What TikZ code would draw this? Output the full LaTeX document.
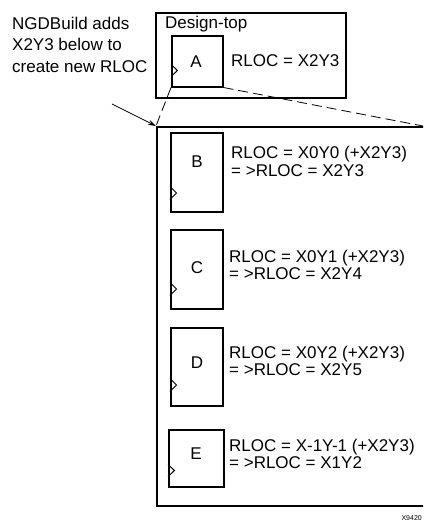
\documentclass[tikz,border=0pt]{standalone}
\usepackage{fontspec}
\setmainfont{Liberation Sans}
\usetikzlibrary{arrows.meta}
\tikzset{
  lbl/.style={anchor=base west, inner sep=0pt, font=\fontsize{17}{18}\selectfont},
  letter/.style={anchor=base, inner sep=0pt, font=\fontsize{17}{18}\selectfont},
  cell/.style={draw, line width=1.5pt, anchor=north west, inner sep=0pt},
  frame/.style={draw, line width=1.5pt, anchor=north west, inner sep=0pt},
  clk/.style={line width=1pt},
  zoomline/.style={line width=0.8pt, dash pattern=on 10pt off 5pt},
  pointer/.style={line width=0.7pt, -{Stealth[length=8pt,width=5pt]}}
}
\begin{document}
\begin{tikzpicture}[x=1pt,y=-1pt]
\useasboundingbox (0,0) rectangle (423,522);
\clip (0,0) rectangle (423,522);
\fill[white] (0,0) rectangle (423,522);

% note text
\node[lbl] (n1) at (12,29) {NGDBuild adds};
\node[lbl] (n2) at (12,50) {X2Y3 below to};
\node[lbl] (n3) at (12,72) {create new RLOC};

% design-top
\node[frame, minimum width=190pt, minimum height=85pt] (top) at (155,12) {};
\node[lbl] (toplbl) at (165,28) {Design-top};
\node[cell, minimum width=51pt, minimum height=51pt] (A) at (171,35) {};
\node[letter] (Al) at (196,67) {A};
\node[lbl] (Arl) at (231,66) {RLOC = X2Y3};
\draw[clk] ([yshift=23pt]A.south west) -- ++(6.5,6) -- ++(-6.5,6);

% big frame
\node[frame, minimum width=290pt, minimum height=379pt] (big) at (156,126) {};

% zoom lines and pointer
\coordinate (dashend) at (423,126);
\draw[zoomline] (A.south west) -- (big.north west);
\draw[zoomline] (A.south east) -- (dashend);
\coordinate (arrstart) at (112,104);
\draw[pointer] (arrstart) -- (big.north west);

% B
\node[cell, minimum width=52pt, minimum height=79pt] (B) at (170,132) {};
\node[letter] (Bl) at (197,167) {B};
\draw[clk] ([yshift=26pt]B.south west) -- ++(6.5,6.5) -- ++(-6.5,6.5);
\node[lbl] (B1) at (231,158) {RLOC = X0Y0 (+X2Y3)};
\node[lbl] (B2) at (231,176) {= >RLOC = X2Y3};

% C
\node[cell, minimum width=52pt, minimum height=79pt] (C) at (170,229) {};
\node[letter] (Cl) at (197,273) {C};
\draw[clk] ([yshift=27pt]C.south west) -- ++(6.5,6.5) -- ++(-6.5,6.5);
\node[lbl] (C1) at (229,262) {RLOC = X0Y1 (+X2Y3)};
\node[lbl] (C2) at (229,279) {= >RLOC = X2Y4};

% D
\node[cell, minimum width=52pt, minimum height=78pt] (D) at (170,327) {};
\node[letter] (Dl) at (197,368) {D};
\draw[clk] ([yshift=28pt]D.south west) -- ++(6.5,6.5) -- ++(-6.5,6.5);
\node[lbl] (D1) at (229,358) {RLOC = X0Y2 (+X2Y3)};
\node[lbl] (D2) at (229,375) {= >RLOC = X2Y5};

% E
\node[cell, minimum width=55pt, minimum height=57pt] (E) at (168,429) {};
\node[letter] (El) at (196,459) {E};
\draw[clk] ([yshift=23pt]E.south west) -- ++(6.5,6) -- ++(-6.5,6);
\node[lbl] (E1) at (229,451) {RLOC = X-1Y-1 (+X2Y3)};
\node[lbl] (E2) at (229,468) {= >RLOC = X1Y2};

% figure id
\node[anchor=south east, inner sep=0pt, font=\fontsize{7}{8}\selectfont] (fid) at (422,521) {X9420};
\end{tikzpicture}
\end{document}
